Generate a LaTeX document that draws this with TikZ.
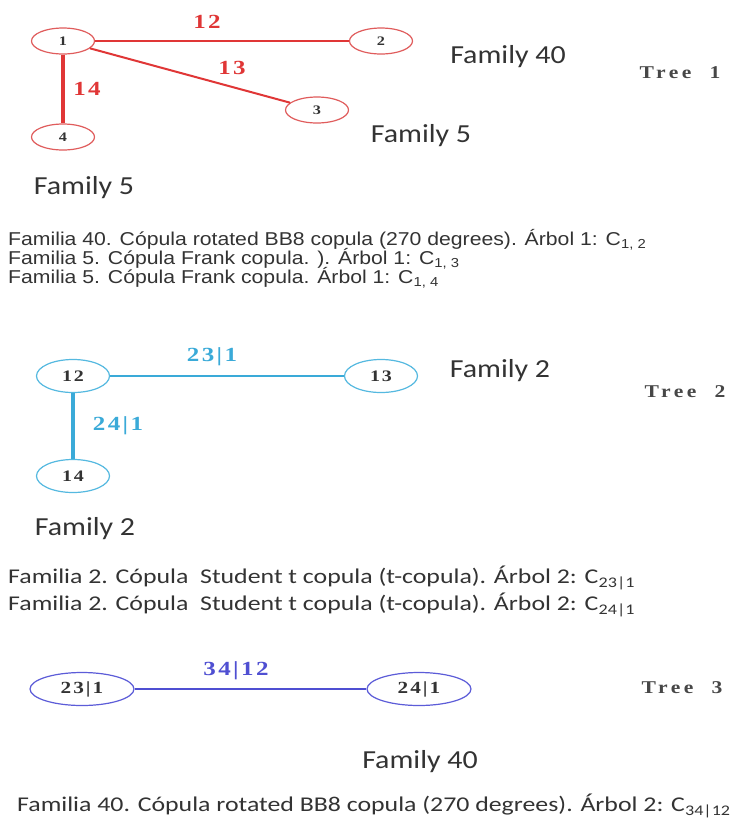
\documentclass[tikz,border=0pt]{standalone}
\usepackage{fontspec}
\usetikzlibrary{shapes.geometric}
\newfontfamily\narrowfont[FakeStretch=1.14]{Liberation Sans}
\newfontfamily\calfont[FakeStretch=1.23]{Carlito}
\newfontfamily\famfont[FakeStretch=1.15]{Carlito}
\newfontfamily\lblfont[FakeStretch=1.25,LetterSpace=12]{Liberation Serif}
\newfontfamily\nodefont[FakeStretch=1.25,LetterSpace=12]{Liberation Serif}
\newfontfamily\treefont[FakeStretch=1.2,LetterSpace=20]{Liberation Serif}
\definecolor{redE}{HTML}{E03636}
\definecolor{redN}{HTML}{E05C5C}
\definecolor{cyanE}{HTML}{3AAAD8}
\definecolor{cyanN}{HTML}{55B9E0}
\definecolor{blueE}{HTML}{4F4FD2}
\definecolor{blueN}{HTML}{5C5CD8}
\definecolor{txt}{HTML}{333333}
\tikzset{
  vnode/.style={ellipse, draw, line width=1.2pt, inner sep=0pt, text=txt},
  rednode/.style={vnode, draw=redN, minimum width=63pt, minimum height=26pt,
    font=\nodefont\bfseries\fontsize{13}{13}\selectfont},
  cyannode/.style={vnode, draw=cyanN, minimum width=73pt, minimum height=33pt,
    font=\nodefont\bfseries\fontsize{16}{16}\selectfont},
  bluenode/.style={vnode, draw=blueN, minimum width=104pt, minimum height=33pt,
    font=\nodefont\bfseries\fontsize{17}{17}\selectfont},
  elabel/.style={inner sep=0pt, font=\lblfont\bfseries\fontsize{20}{20}\selectfont},
  family/.style={inner sep=0pt, text=txt, font=\famfont\fontsize{26}{26}\selectfont},
  treelbl/.style={inner sep=0pt, text=txt!90, font=\treefont\bfseries\fontsize{18}{18}\selectfont},
  desc1/.style={anchor=west, inner sep=0pt, text=txt, font=\narrowfont\fontsize{18.6}{18.6}\selectfont},
  desc2/.style={anchor=west, inner sep=0pt, text=txt, font=\calfont\fontsize{21}{21}\selectfont},
}
\begin{document}
\begin{tikzpicture}[x=1pt,y=-1pt]
\useasboundingbox[fill=white] (0,0) rectangle (742,820);
% Tree 1
\node[rednode] (n1) at (63,41) {1};
\node[rednode] (n2) at (381,41) {2};
\node[rednode] (n3) at (317,110) {3};
\node[rednode] (n4) at (63,137) {4};
\draw[redE, line width=2.4pt] (n1) -- (n2);
\draw[redE, line width=2pt] (n1) -- (n3);
\draw[redE, line width=4pt] (n1) -- (n4);
\node[elabel, text=redE] (l12) at (207,22) {12};
\node[elabel, text=redE] (l13) at (232,68) {13};
\node[elabel, text=redE] (l14) at (87,89) {14};
\node[family] (f40a) at (508,57) {Family 40};
\node[family] (f5a) at (421,136) {Family 5};
\node[family] (f5b) at (84,188) {Family 5};
\node[treelbl] (t1) at (680,73) {Tree\ \ 1};
\node[desc1] (d11) at (8,240) {Familia 40. Cópula rotated BB8 copula (270 degrees). Árbol 1: C\textsubscript{1, 2}};
\node[desc1] (d12) at (8,259) {Familia 5. Cópula Frank copula. ). Árbol 1: C\textsubscript{1, 3}};
\node[desc1] (d13) at (8,278) {Familia 5. Cópula Frank copula. Árbol 1: C\textsubscript{1, 4}};
% Tree 2
\node[cyannode] (m12) at (73,376) {12};
\node[cyannode] (m13) at (381,376) {13};
\node[cyannode] (m14) at (73,476) {14};
\draw[cyanE, line width=2.4pt] (m12) -- (m13);
\draw[cyanE, line width=3.5pt] (m12) -- (m14);
\node[elabel, text=cyanE] (l231) at (212,357) {23|1};
\node[elabel, text=cyanE] (l241) at (118,426) {24|1};
\node[family] (f2a) at (500,371) {Family 2};
\node[family] (f2b) at (85,529) {Family 2};
\node[treelbl] (t2) at (685,392) {Tree\ \ 2};
\node[desc2] (d21) at (8,578) {Familia 2. Cópula\ \ Student t copula (t-copula). Árbol 2: C\textsubscript{23|1}};
\node[desc2] (d22) at (8,605) {Familia 2. Cópula\ \ Student t copula (t-copula). Árbol 2: C\textsubscript{24|1}};
% Tree 3
\node[bluenode] (k231) at (82,689) {23|1};
\node[bluenode] (k241) at (419,689) {24|1};
\draw[blueE, line width=2pt] (k231) -- (k241);
\node[elabel, text=blueE] (l3412) at (236,671) {34|12};
\node[treelbl] (t3) at (682,688) {Tree\ \ 3};
\node[family] (f40b) at (420,762) {Family 40};
\node[desc2] (d31) at (17,806) {Familia 40. Cópula rotated BB8 copula (270 degrees). Árbol 2: C\textsubscript{34|12}};
\end{tikzpicture}
\end{document}
